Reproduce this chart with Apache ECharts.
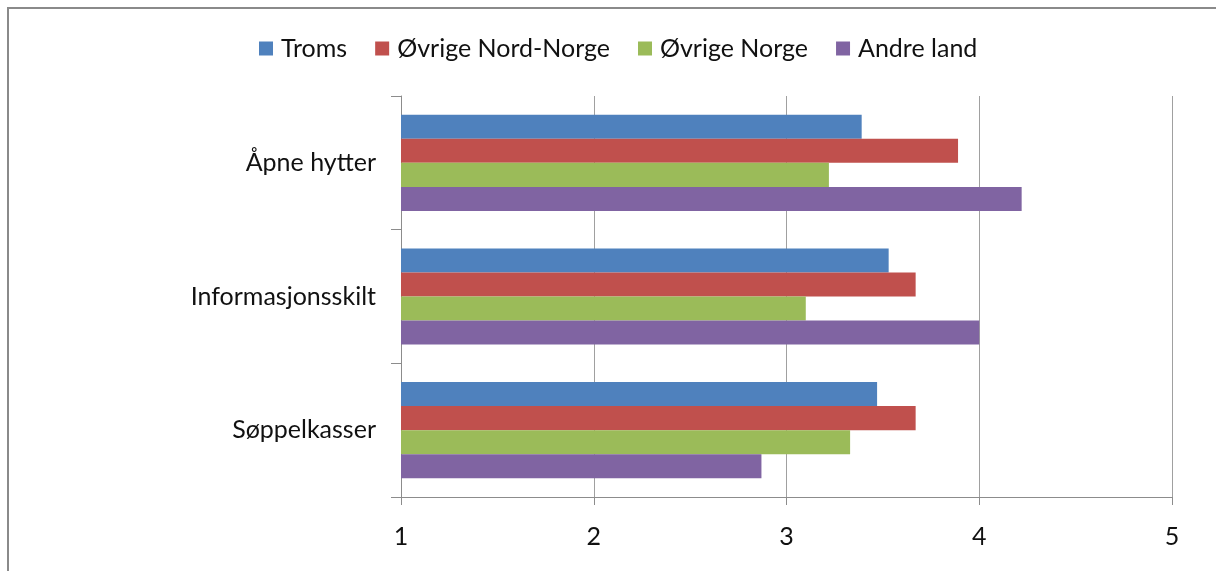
<!DOCTYPE html>
<html>
<head>
<meta charset="utf-8">
<script src="https://cdn.jsdelivr.net/npm/echarts@6/dist/echarts.min.js"></script>
<style>
  html, body { margin: 0; padding: 0; background: #fff; }
  #chart { width: 1216px; height: 571px; }
</style>
</head>
<body>
<div id="chart"></div>
<script>
// kategorier (ovenfra og ned)
const categories = ['Åpne hytter', 'Informasjonsskilt', 'Søppelkasser']
const seriesNames = ['Troms', 'Øvrige Nord-Norge', 'Øvrige Norge', 'Andre land']
const colors = ['#4F81BD', '#C0504D', '#9BBB59', '#8064A2']

// verdier per serie, samme rekkefølge som categories
const troms = [3.39, 3.53, 3.47]
const ovrigeNordNorge = [3.89, 3.67, 3.67]
const ovrigeNorge = [3.22, 3.10, 3.33]
const andreLand = [4.22, 4.00, 2.87]

const xTicks = [1, 2, 3, 4, 5]

const font = 'Lato, "Open Sans", sans-serif'
const fontSize = 25
const chart = echarts.init(document.getElementById('chart'))

const option = {
  animation: false,
  textStyle: { fontFamily: font },
  graphic: [
    {
      type: 'rect',
      shape: { x: 8, y: 8, width: 1300, height: 700 },
      style: { fill: 'none', stroke: '#8a8a8a', lineWidth: 2 },
      silent: true
    }
  ],
  legend: {
    top: 31,
    left: 254,
    itemWidth: 14,
    itemHeight: 14,
    itemGap: 28,
    icon: 'rect',
    textStyle: { fontSize: fontSize, color: '#111', fontFamily: font, padding: [0, 0, 0, 3] },
    data: seriesNames
  },
  grid: {
    left: 401,
    right: 44,
    top: 96,
    bottom: 74
  },
  xAxis: {
    type: 'value',
    min: xTicks[0],
    max: xTicks[xTicks.length - 1],
    interval: 1,
    axisLine: { show: true, lineStyle: { color: '#8c8c8c', width: 1 } },
    axisTick: { show: true, length: 8, lineStyle: { color: '#8c8c8c' } },
    axisLabel: { fontSize: fontSize, color: '#111', margin: 27, fontFamily: font },
    splitLine: { show: true, lineStyle: { color: '#a0a0a0', width: 1 } }
  },
  yAxis: {
    type: 'category',
    inverse: true,
    data: categories,
    axisLine: { show: true, lineStyle: { color: '#8c8c8c', width: 1 } },
    axisTick: { show: true, length: 10, lineStyle: { color: '#8c8c8c' } },
    axisLabel: { fontSize: fontSize, color: '#111', margin: 25, fontFamily: font },
    splitLine: { show: false }
  },
  series: [troms, ovrigeNordNorge, ovrigeNorge, andreLand].map((data, i) => ({
    name: seriesNames[i],
    type: 'bar',
    data: data,
    barGap: '0%',
    barCategoryGap: '28%',
    itemStyle: { color: colors[i] }
  }))
}

chart.setOption(option)
</script>
</body>
</html>
